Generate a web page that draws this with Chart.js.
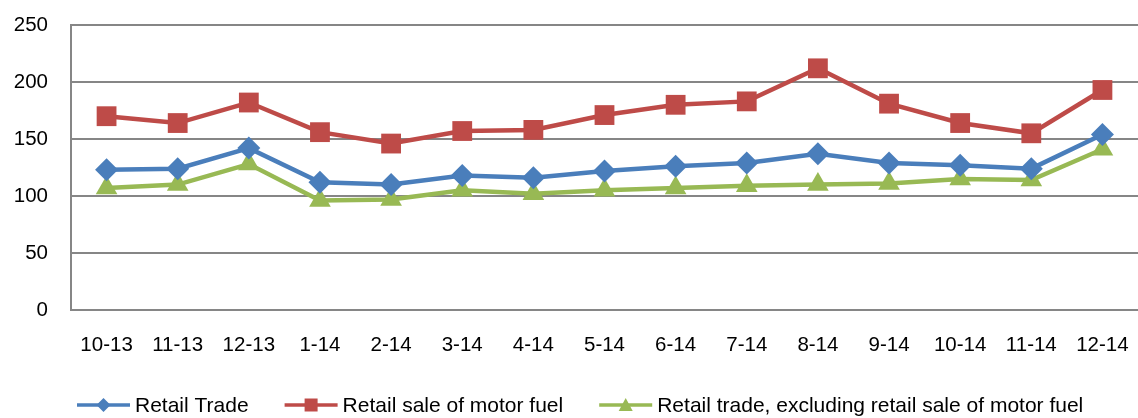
<!DOCTYPE html>
<html>
<head>
<meta charset="utf-8">
<script src="https://cdn.jsdelivr.net/npm/chart.js@4/dist/chart.umd.min.js"></script>
<style>
html,body{margin:0;padding:0;background:#fff;}
#wrap{width:1138px;height:418px;position:relative;}
</style>
</head>
<body>
<div id="wrap"><canvas id="c" width="1138" height="418"></canvas></div>
<script>
const categories = ["10-13","11-13","12-13","1-14","2-14","3-14","4-14","5-14","6-14","7-14","8-14","9-14","10-14","11-14","12-14"];
const retailTrade = [123,124,142,112,110,118,116,122,126,129,137,129,127,124,154];
const motorFuel = [170,164,182,156,146,157,158,171,180,183,212,181,164,155,193];
const excludingFuel = [107,110,128,96,97,105,102,105,107,109,110,111,115,114,141];
const seriesNames = ['Retail Trade','Retail sale of motor fuel','Retail trade, excluding retail sale of motor fuel'];
const yTicks = [0,50,100,150,200,250];

const BLUE = '#4A7EBB', RED = '#BE4B48', GREEN = '#98B954';
const FONT = '"Liberation Sans", Arial, sans-serif';
const FSIZE = 20.5;

// Legend drawn below the plot (line + marker + label per series)
const bottomLegend = {
  id: 'bottomLegend',
  afterDraw(chart){
    const ctx = chart.ctx;
    ctx.save();
    ctx.font = '21px ' + FONT;
    ctx.textBaseline = 'middle';
    ctx.textAlign = 'left';
    const y = 405;
    let x = 77;
    chart.data.datasets.forEach((d) => {
      const c = d.borderColor;
      ctx.strokeStyle = c; ctx.lineWidth = 3.5;
      ctx.beginPath(); ctx.moveTo(x, y); ctx.lineTo(x + 53, y); ctx.stroke();
      ctx.fillStyle = c;
      const cx = x + 26.5;
      ctx.beginPath();
      if (d.pointStyle === 'rectRot'){ ctx.moveTo(cx, y-7); ctx.lineTo(cx+7, y); ctx.lineTo(cx, y+7); ctx.lineTo(cx-7, y); }
      else if (d.pointStyle === 'rect'){ ctx.rect(cx-6.5, y-6.5, 13, 13); }
      else { ctx.moveTo(cx, y-7); ctx.lineTo(cx+7, y+6); ctx.lineTo(cx-7, y+6); }
      ctx.closePath(); ctx.fill();
      x += 58;
      ctx.fillStyle = '#000';
      ctx.fillText(d.label, x, y + 1);
      x += ctx.measureText(d.label).width + 36;
    });
    ctx.restore();
  }
};

new Chart(document.getElementById('c'), {
  type: 'line',
  data: {
    labels: categories,
    datasets: [
      {label: seriesNames[0], data: retailTrade, borderColor: BLUE, backgroundColor: BLUE, borderWidth: 4.5,
       pointStyle:'rectRot', pointRadius: 11.5, pointHoverRadius: 11.5, pointBorderWidth: 0, tension: 0},
      {label: seriesNames[1], data: motorFuel, borderColor: RED, backgroundColor: RED, borderWidth: 4.5,
       pointStyle:'rect', pointRadius: 14, pointHoverRadius: 14, pointBorderWidth: 0, tension: 0},
      {label: seriesNames[2], data: excludingFuel, borderColor: GREEN, backgroundColor: GREEN, borderWidth: 4.5,
       pointStyle:'triangle', pointRadius: 12.5, pointHoverRadius: 12.5, pointBorderWidth: 0, tension: 0}
    ]
  },
  plugins: [bottomLegend],
  options: {
    responsive: false,
    animation: false,
    layout: {autoPadding: false, padding: {top: 25, right: -4, left: 0, bottom: 48}},
    plugins: {
      tooltip: {enabled: false},
      legend: {display: false}
    },
    scales: {
      x: {
        offset: true,
        grid: {display: false, drawTicks: false},
        border: {display: false},
        ticks: {color: '#000', font: {family: FONT, size: FSIZE}, padding: 23, maxRotation: 0, autoSkip: false},
        afterFit(s){ s.height = 60; s.paddingLeft = 0; s.paddingRight = 0; }
      },
      y: {
        min: 0, max: 250,
        afterBuildTicks(s){ s.ticks = yTicks.map(v=>({value:v})); },
        grid: {color: '#868686', lineWidth: 2, drawTicks: false},
        border: {display: true, color: '#868686', width: 2},
        ticks: {color: '#000', font: {family: FONT, size: FSIZE}, padding: 23},
        afterFit(s){ s.width = 71; s.paddingTop = 0; s.paddingBottom = 0; }
      }
    }
  }
});
</script>
</body>
</html>
